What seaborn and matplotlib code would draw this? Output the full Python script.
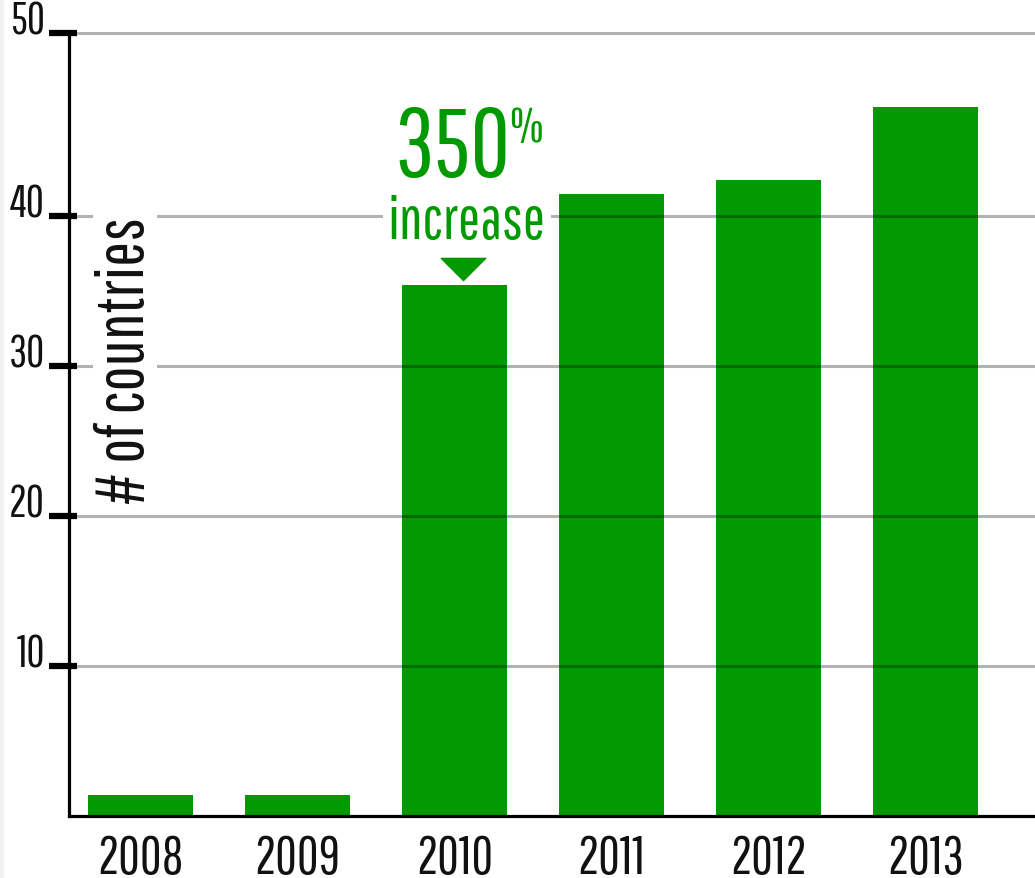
import matplotlib
matplotlib.use('Agg')
import matplotlib.pyplot as plt
from matplotlib.patches import Rectangle
from matplotlib.ticker import FixedLocator
from matplotlib.path import Path
import seaborn as sns
import pandas as pd

# ---- data ----
years = ['2008', '2009', '2010', '2011', '2012', '2013']
countries = [1.4, 1.4, 35.4, 41.5, 42.4, 47.3]
ytick_values = [10, 20, 30, 40]
ytick_labels = ['10', '20', '30', '40', '50']
ylabel_text = '# of countries'
annot_number = '350'
annot_pct = '%'
annot_word = 'increase'
highlight_year = '2010'

GREEN = '#009900'
FONTS = ['Pathway Gothic One', 'League Gothic', 'Oswald', 'DejaVu Sans']

sns.set_theme(style='white')
plt.rcParams['font.family'] = FONTS

df = pd.DataFrame({'year': years, 'countries': countries})

fig = plt.figure(figsize=(10.35, 8.79), dpi=100)
fig.patches.append(Rectangle((0, 0), 4 / 1035, 1, transform=fig.transFigure,
                             facecolor='#f2f2f2', edgecolor='none', zorder=-1))
ax = fig.add_axes([69 / 1035, 62 / 879, 966 / 1035, 784 / 879])

sns.barplot(data=df, x='year', y='countries', order=years, color=GREEN,
            saturation=1, width=0.669, ax=ax, edgecolor='none', linewidth=0)

ytop = 52.3
ax.set_ylim(0, ytop)
ax.set_xlim(-0.455, 5.697)

yt = ytick_values + [52.2]
ax.set_yticks(yt)
ax.set_yticklabels(ytick_labels, fontsize=32)
for lbl in ax.get_yticklabels():
    lbl.set_verticalalignment('baseline')
ax.yaxis.set_minor_locator(FixedLocator(yt))
ax.yaxis.remove_overlapping_locs = False
ax.tick_params(axis='y', which='major', direction='out', length=14.4, width=4.5,
               color='black', pad=3, left=True, labelcolor='#111111')
ax.tick_params(axis='y', which='minor', direction='in', length=5.8, width=4.5,
               color='black', left=True)
ax.tick_params(axis='x', length=0, pad=12, labelsize=38, labelcolor='#111111')

ax.set_axisbelow(False)
ax.yaxis.grid(True, color='black', alpha=0.3, linewidth=2.2)
ax.xaxis.grid(False)

for s in ['top', 'right']:
    ax.spines[s].set_visible(False)
for s in ['left', 'bottom']:
    ax.spines[s].set_color('black')
    ax.spines[s].set_linewidth(2.3)

ax.set_xlabel('')
ax.set_ylabel(ylabel_text, fontsize=48, color='#111111', va='center',
              bbox=dict(facecolor='white', edgecolor='none', pad=1))
ax.yaxis.set_label_coords(0.058, 0.582)

# annotation
idx = years.index(highlight_year)
ax.text(idx - 0.015, 42.7, annot_number, ha='center', va='baseline',
        fontsize=70, color=GREEN, zorder=5)
ax.text(idx + 0.345, 47.4, annot_pct, ha='left', va='top',
        fontsize=35, color=GREEN, zorder=5)
ax.text(idx + 0.08, 38.53, annot_word, ha='center', va='baseline',
        fontsize=42.5, color=GREEN, zorder=5,
        bbox=dict(facecolor='white', edgecolor='none', pad=4))
tri = Path([(-1, 0.5), (1, 0.5), (0, -0.5), (-1, 0.5)],
           [Path.MOVETO, Path.LINETO, Path.LINETO, Path.CLOSEPOLY])
ax.plot([idx + 0.057], [countries[idx] + 1.1], marker=tri, markersize=32,
        color=GREEN, linestyle='none', zorder=5, clip_on=False)

fig.savefig('out.png', dpi=100)
